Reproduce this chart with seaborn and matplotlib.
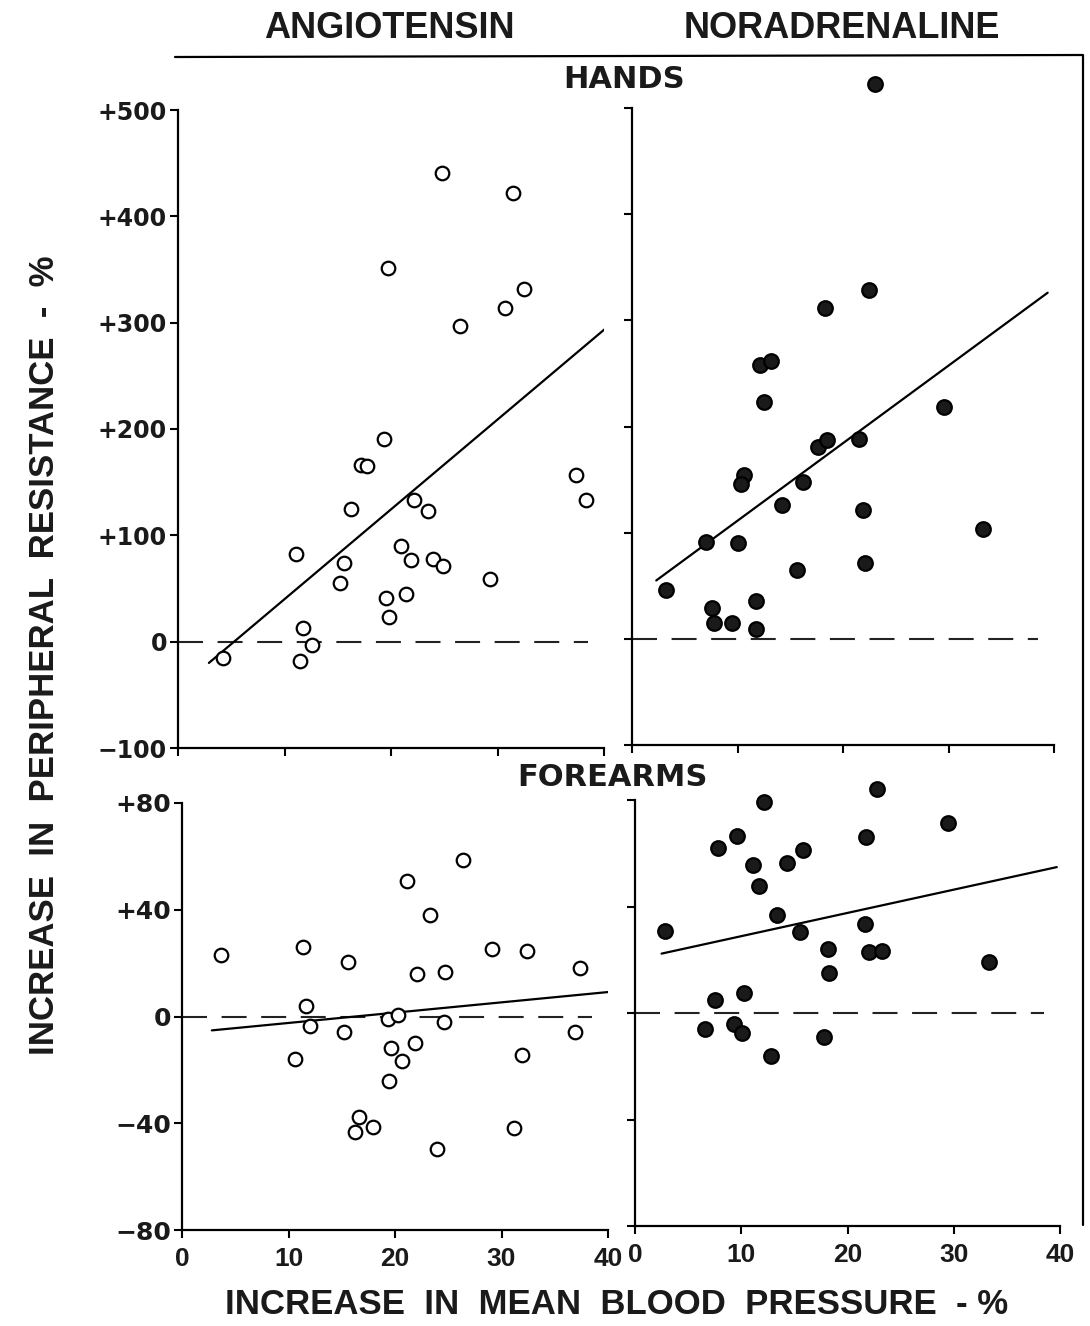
import matplotlib
matplotlib.use("Agg")
import matplotlib.pyplot as plt
import seaborn as sns
import numpy as np
import pandas as pd
from matplotlib.lines import Line2D

# ---------------- data ----------------
# HANDS - Angiotensin (open circles)
hands_ang_x = [24.8, 31.5, 19.7, 32.5, 30.7, 26.5, 19.3, 17.2, 17.7, 16.2, 22.2, 23.5,
               37.4, 38.3, 11.1, 15.6, 15.2, 20.9, 21.9, 23.9, 24.9, 29.3, 19.5, 21.4,
               19.8, 11.7, 12.6, 11.5, 4.2]
hands_ang_y = [441, 422, 351, 332, 314, 297, 191, 166, 165, 125, 133, 123,
               157, 133, 82, 74, 55, 90, 77, 78, 71, 59, 41, 45,
               23, 13, -3, -18, -15]
hands_ang_fit_x = [2.9, 40.2]
hands_ang_fit_y = [-20, 295]

# HANDS - Noradrenaline (filled circles)
hands_nor_x = [23.0, 22.5, 18.3, 12.1, 13.2, 12.5, 29.6, 17.6, 18.5, 21.5, 10.6, 10.3,
               16.2, 14.2, 21.9, 33.3, 7.0, 10.0, 15.6, 22.1, 3.2, 7.6, 7.8, 9.5, 11.8, 11.8]
hands_nor_y = [523, 329, 312, 258, 262, 223, 218, 181, 187, 188, 154, 146,
               148, 126, 121, 103, 91, 90, 65, 71, 46, 29, 15, 15, 36, 9]
hands_nor_fit_x = [2.3, 39.4]
hands_nor_fit_y = [55, 326]

# FOREARMS - Angiotensin
fore_ang_x = [3.7, 11.4, 15.6, 21.1, 26.4, 23.3, 29.1, 32.4, 37.4, 22.1, 24.7, 11.6,
              12.0, 19.3, 20.3, 24.6, 15.2, 36.9, 10.6, 19.6, 21.9, 20.7, 31.9, 19.4,
              16.6, 16.2, 17.9, 31.2, 23.9]
fore_ang_y = [22.9, 26.2, 20.5, 50.7, 58.5, 37.9, 25.4, 24.6, 18.1, 16.0, 16.5, 3.8,
              -3.5, -1.0, 0.6, -1.9, -5.8, -5.7, -16.0, -11.7, -9.9, -16.5, -14.6, -24.0,
              -37.5, -43.3, -41.3, -41.6, -49.7]
fore_ang_fit_x = [2.8, 40.1]
fore_ang_fit_y = [-5.2, 9.2]

# FOREARMS - Noradrenaline
fore_nor_x = [12.1, 22.8, 29.5, 21.7, 9.6, 7.8, 15.8, 11.1, 14.3, 11.7, 13.4, 15.5,
              21.6, 2.8, 18.2, 22.0, 23.2, 33.3, 18.3, 10.3, 7.5, 6.6, 9.3, 10.1, 17.8, 12.8]
fore_nor_y = [79.2, 84.1, 71.5, 66.1, 66.6, 62.1, 61.3, 55.7, 56.2, 47.7, 36.9, 30.6,
              33.4, 30.9, 24.2, 22.9, 23.1, 19.1, 15.2, 7.4, 4.7, -5.9, -4.1, -7.4, -9.1, -16.0]
fore_nor_fit_x = [2.5, 39.7]
fore_nor_fit_y = [22.3, 54.8]

zero_x = [0, 38.5]
zero_y = [0, 0]

x_ticks = [0, 10, 20, 30, 40]
x_ticklabels = ["0", "10", "20", "30", "40"]
hands_yticks = [-100, 0, 100, 200, 300, 400, 500]
hands_yticklabels = ["\u2212100", "0", "+100", "+200", "+300", "+400", "+500"]
fore_yticks = [-80, -40, 0, 40, 80]
fore_yticklabels = ["\u221280", "\u221240", "0", "+40", "+80"]

col_titles = ["ANGIOTENSIN", "NORADRENALINE"]
row_titles = ["HANDS", "FOREARMS"]
ylabel_text = "INCREASE  IN  PERIPHERAL  RESISTANCE  -  %"
xlabel_text = "INCREASE  IN  MEAN  BLOOD  PRESSURE  - %"

# ---------------- style ----------------
sns.set_theme(style="white")
plt.rcParams["font.family"] = ["Liberation Sans", "DejaVu Sans"]
plt.rcParams["axes.linewidth"] = 1.5

fig = plt.figure(figsize=(10.9, 13.26), dpi=100)

W, H = 1090.0, 1326.0


def axes_px(x0, x40, ybot, ytop):
    return fig.add_axes([x0 / W, 1 - ybot / H, (x40 - x0) / W, (ybot - ytop) / H])


ax_ha = axes_px(178, 604, 748, 110)
ax_hn = axes_px(632, 1054, 745, 108)
ax_fa = axes_px(182, 608, 1230, 803)
ax_fn = axes_px(635, 1060, 1226, 800)

panels = [
    (ax_ha, hands_ang_x, hands_ang_y, hands_ang_fit_x, hands_ang_fit_y, False, "hands"),
    (ax_hn, hands_nor_x, hands_nor_y, hands_nor_fit_x, hands_nor_fit_y, True, "hands"),
    (ax_fa, fore_ang_x, fore_ang_y, fore_ang_fit_x, fore_ang_fit_y, False, "fore"),
    (ax_fn, fore_nor_x, fore_nor_y, fore_nor_fit_x, fore_nor_fit_y, True, "fore"),
]

for ax, xs, ys, fx, fy, filled, row in panels:
    ax.set_facecolor("white")
    ax.plot(zero_x, zero_y, color="#222222", lw=1.5, ls=(0, (12, 7)), zorder=1)
    sns.lineplot(x=fx, y=fy, ax=ax, color="black", lw=1.6, zorder=2, sort=False)
    df = pd.DataFrame({"x": xs, "y": ys})
    sns.scatterplot(data=df, x="x", y="y", ax=ax, marker="o",
                    s=(110 if filled else 95),
                    facecolor=("#1a1a1a" if filled else "white"),
                    edgecolor="black", linewidth=1.6, zorder=3, clip_on=False)
    ax.set_xlim(0, 40)
    ax.set_xticks(x_ticks)
    if row == "hands":
        ax.set_ylim(-100, 500)
        ax.set_yticks(hands_yticks)
        ax.set_yticklabels(hands_yticklabels)
        ax.set_xticklabels([])
        ysize = 17
    else:
        ax.set_ylim(-80, 80)
        ax.set_yticks(fore_yticks)
        ax.set_yticklabels(fore_yticklabels)
        ax.set_xticklabels(x_ticklabels)
        ysize = 18
    if filled:
        ax.set_yticklabels([])
    for s in ["top", "right"]:
        ax.spines[s].set_visible(False)
    for s in ["left", "bottom"]:
        ax.spines[s].set_linewidth(1.6)
        ax.spines[s].set_color("black")
    ax.tick_params(axis="both", direction="out", length=6, width=1.5, color="black",
                   left=True, bottom=True)
    ax.tick_params(axis="y", pad=2)
    ax.tick_params(axis="x", pad=6)
    for lab in ax.get_yticklabels():
        lab.set_fontfamily(["DejaVu Sans"])
        lab.set_fontweight("bold")
        lab.set_fontsize(ysize)
        lab.set_color("#1a1a1a")
    for lab in ax.get_xticklabels():
        lab.set_fontfamily(["Liberation Sans", "DejaVu Sans"])
        lab.set_fontweight("bold")
        lab.set_fontsize(19)
        lab.set_color("#1a1a1a")
    ax.set_xlabel("")
    ax.set_ylabel("")
    ax.grid(False)

# ---------------- text ----------------
fig.text(389 / W, 1 - 28 / H, col_titles[0], ha="center", va="center",
         fontsize=26, fontweight="bold", color="#1a1a1a")
fig.text(842 / W, 1 - 28 / H, col_titles[1], ha="center", va="center",
         fontsize=26, fontweight="bold", color="#1a1a1a")
fig.text(624 / W, 1 - 80 / H, row_titles[0], ha="center", va="center",
         fontsize=22, fontweight="bold", color="#1a1a1a", family=["DejaVu Sans"])
fig.text(612 / W, 1 - 777 / H, row_titles[1], ha="center", va="center",
         fontsize=22, fontweight="bold", color="#1a1a1a", family=["DejaVu Sans"])
fig.text(45 / W, 1 - 655 / H, ylabel_text, ha="center", va="center", rotation=90,
         fontsize=25, fontweight="bold", color="#1a1a1a")
fig.text(617 / W, 1 - 1305 / H, xlabel_text, ha="center", va="center",
         fontsize=25, fontweight="bold", color="#1a1a1a")

# frame line across the top and down the right side
fig.add_artist(Line2D([175 / W, 1083 / W, 1083 / W], [1 - 57 / H, 1 - 55 / H, 1 - 1225 / H],
                      transform=fig.transFigure, color="black", lw=1.6))

fig.savefig("out.png", dpi=100, facecolor="white")
